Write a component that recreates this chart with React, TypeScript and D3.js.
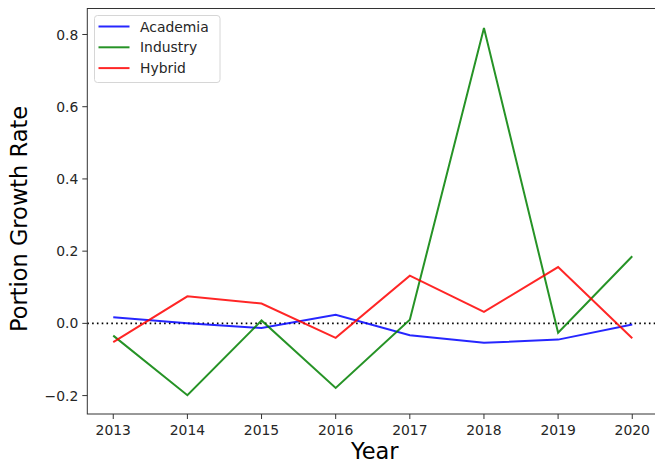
import React from "react";
import * as d3 from "d3";

const years = [2013, 2014, 2015, 2016, 2017, 2018, 2019, 2020];
const academia = [0.017, 0.0, -0.013, 0.024, -0.033, -0.054, -0.045, -0.003];
const industry = [-0.034, -0.199, 0.008, -0.179, 0.01, 0.818, -0.026, 0.186];
const hybrid = [-0.052, 0.075, 0.055, -0.04, 0.132, 0.032, 0.156, -0.041];
const yTicks = [-0.2, 0.0, 0.2, 0.4, 0.6, 0.8];
const seriesNames = ["Academia", "Industry", "Hybrid"];
const seriesColors = ["#0000ff", "#008000", "#ff0000"];

export default function App() {
  const W = 655, H = 464;
  const left = 87.3, right = 658.2, top = 8.5, bottom = 414;
  const x = d3.scaleLinear().domain([2012.65, 2020.35]).range([left, right]);
  const y = d3.scaleLinear().domain([-0.251, 0.872]).range([bottom, top]);
  const all = [academia, industry, hybrid];
  const line = d3
    .line<number>()
    .x((_, i) => x(years[i]))
    .y((d) => y(d));
  const font = "DejaVu Sans, sans-serif";
  const axisColor = "#333";
  const fs = 13.9;
  return (
    <svg
      width={W}
      height={H}
      style={{ position: "absolute", left: 0, top: 0, background: "#fff" }}
      fontFamily={font}
    >
      <defs>
        <clipPath id="plot">
          <rect x={left} y={top} width={right - left} height={bottom - top} />
        </clipPath>
      </defs>
      <line
        x1={left}
        x2={right}
        y1={y(0)}
        y2={y(0)}
        stroke="#000"
        strokeWidth={1.6}
        strokeDasharray="1.6 3.2"
      />
      <g clipPath="url(#plot)">
        {all.map((s, k) => (
          <path
            key={k}
            d={line(s) || ""}
            fill="none"
            stroke={seriesColors[k]}
            strokeOpacity={0.85}
            strokeWidth={2}
          />
        ))}
      </g>
      <rect
        x={left}
        y={top}
        width={right - left}
        height={bottom - top}
        fill="none"
        stroke={axisColor}
        strokeWidth={1}
      />
      {years.map((yr) => (
        <g key={yr}>
          <line x1={x(yr)} x2={x(yr)} y1={bottom} y2={bottom + 5} stroke={axisColor} />
          <text x={x(yr)} y={bottom + 21} textAnchor="middle" fontSize={fs} fill="#262626">
            {yr}
          </text>
        </g>
      ))}
      {yTicks.map((t) => (
        <g key={t}>
          <line x1={left - 5} x2={left} y1={y(t)} y2={y(t)} stroke={axisColor} />
          <text
            x={left - 9}
            y={y(t)}
            dy="0.36em"
            textAnchor="end"
            fontSize={fs}
            fill="#262626"
          >
            {t < 0 ? "\u2212" + Math.abs(t).toFixed(1) : t.toFixed(1)}
          </text>
        </g>
      ))}
      <text x={(left + right) / 2 + 2} y={459} textAnchor="middle" fontSize={22.5} fill="#000">
        Year
      </text>
      <text
        transform={`translate(27, ${219}) rotate(-90)`}
        textAnchor="middle"
        fontSize={22.5}
        fill="#000"
      >
        Portion Growth Rate
      </text>
      <rect
        x={94.5}
        y={15.5}
        width={125.5}
        height={67}
        rx={3}
        fill="#fff"
        fillOpacity={0.8}
        stroke="#d6d6d6"
      />
      {seriesNames.map((n, k) => (
        <g key={n}>
          <line
            x1={98.5}
            x2={129.5}
            y1={26.5 + k * 20.8}
            y2={26.5 + k * 20.8}
            stroke={seriesColors[k]}
            strokeOpacity={0.85}
            strokeWidth={2}
          />
          <text x={140} y={26.5 + k * 20.8} dy="0.36em" fontSize={fs} fill="#262626">
            {n}
          </text>
        </g>
      ))}
    </svg>
  );
}
